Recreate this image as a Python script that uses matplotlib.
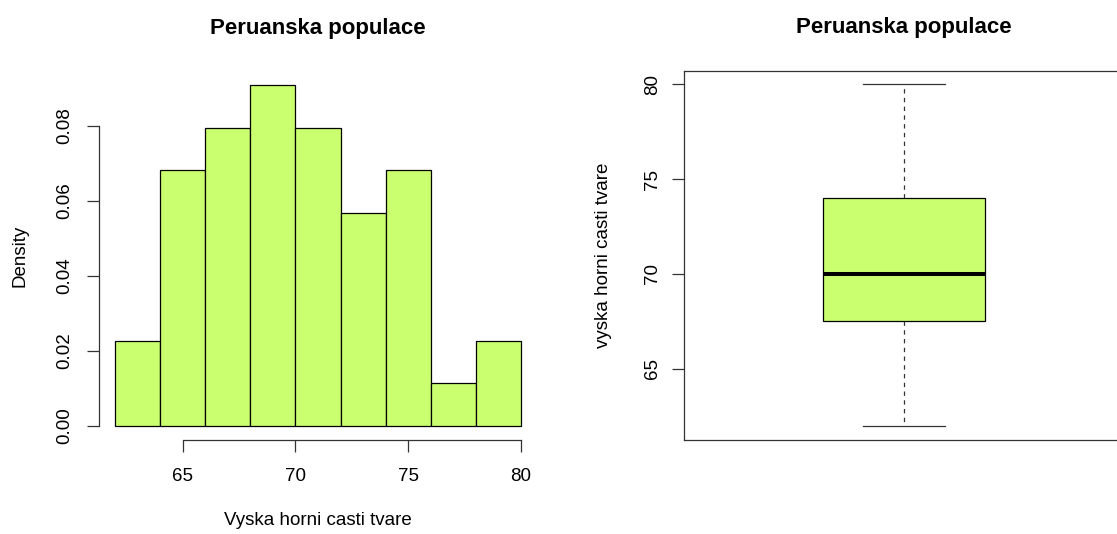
import numpy as np
import matplotlib
matplotlib.use("Agg")
import matplotlib.pyplot as plt

plt.rcParams['font.family'] = ['Liberation Sans', 'DejaVu Sans']

# histogram of upper face height (Peruvian population), bins of width 2
bin_edges = [62, 64, 66, 68, 70, 72, 74, 76, 78, 80]
counts = [2, 6, 7, 8, 7, 5, 6, 1, 2]
x_ticks = [65, 70, 75, 80]
y_ticks = [0.00, 0.02, 0.04, 0.06, 0.08]

# boxplot summary
box_min = 62
box_q1 = 67.5
box_med = 70
box_q3 = 74
box_max = 80
box_ticks = [65, 70, 75, 80]

title = 'Peruanska populace'
fill = '#caff70'

n = sum(counts)
width = np.diff(bin_edges)
density = np.array(counts) / (n * width)

W, H = 1117, 534
fig = plt.figure(figsize=(W / 100, H / 100), dpi=100)

def px_axes(left, top, right, bottom):
    return fig.add_axes([left / W, 1 - bottom / H, (right - left) / W, (bottom - top) / H])

lw = 0.9
fs = 13.5

# ---- left: histogram
ax1 = px_axes(99, 71.6, 537, 439.6)
ax1.bar(bin_edges[:-1], density, width=width, align='edge',
        color=fill, edgecolor='black', linewidth=lw)
lo, hi = bin_edges[0], bin_edges[-1]
ext = 0.04 * (hi - lo)
ax1.set_xlim(lo - ext, hi + ext)
top = density.max()
ax1.set_ylim(-0.04 * top, top * 1.04)
for s in ['top', 'right']:
    ax1.spines[s].set_visible(False)
ax1.spines['left'].set_position(('outward', 0))
ax1.spines['bottom'].set_position(('outward', 0))
ax1.spines['left'].set_bounds(y_ticks[0], y_ticks[-1])
ax1.spines['bottom'].set_bounds(x_ticks[0], x_ticks[-1])
for s in ['left', 'bottom']:
    ax1.spines[s].set_linewidth(lw)
    ax1.spines[s].set_color('#333333')
ax1.set_xticks(x_ticks)
ax1.set_yticks(y_ticks)
ax1.set_yticklabels(['%.2f' % v for v in y_ticks], rotation=90, va='center')
ax1.tick_params(axis='x', length=8.6, width=lw, pad=11.5, labelsize=fs, color='#333333')
ax1.tick_params(axis='y', length=8.6, width=lw, pad=10, labelsize=fs, color='#333333')
ax1.set_xlabel('Vyska horni casti tvare', fontsize=fs, labelpad=20)
ax1.set_ylabel('Density', fontsize=fs, labelpad=20)
ax1.set_title(title, fontsize=16, fontweight='bold', pad=27)

# ---- right: boxplot
ax2 = px_axes(684, 70.5, 1124, 439.5)
stats = [dict(med=box_med, q1=box_q1, q3=box_q3, whislo=box_min, whishi=box_max, fliers=[])]
ax2.bxp(stats, positions=[1], widths=0.4, capwidths=0.2, patch_artist=True,
        showfliers=False,
        boxprops=dict(facecolor=fill, edgecolor='black', linewidth=lw),
        medianprops=dict(color='black', linewidth=2.9, solid_capstyle='butt'),
        whiskerprops=dict(color='#333333', linewidth=lw, linestyle=(0, (3.5, 3.5))),
        capprops=dict(color='#333333', linewidth=lw))
ext2 = 0.04 * (box_max - box_min)
ax2.set_ylim(box_min - ext2, box_max + ext2)
ax2.set_xlim(0.46, 1.54)
ax2.set_xticks([])
ax2.set_yticks(box_ticks)
ax2.set_yticklabels([str(v) for v in box_ticks], rotation=90, va='center')
ax2.tick_params(axis='y', length=8.6, width=lw, pad=8, labelsize=fs, color='#333333')
for s in ax2.spines.values():
    s.set_linewidth(lw)
    s.set_color('#333333')
ax2.set_ylabel('vyska horni casti tvare', fontsize=fs, labelpad=23)
ax2.set_title(title, fontsize=16, fontweight='bold', pad=27)

fig.savefig('out.png', dpi=100)
